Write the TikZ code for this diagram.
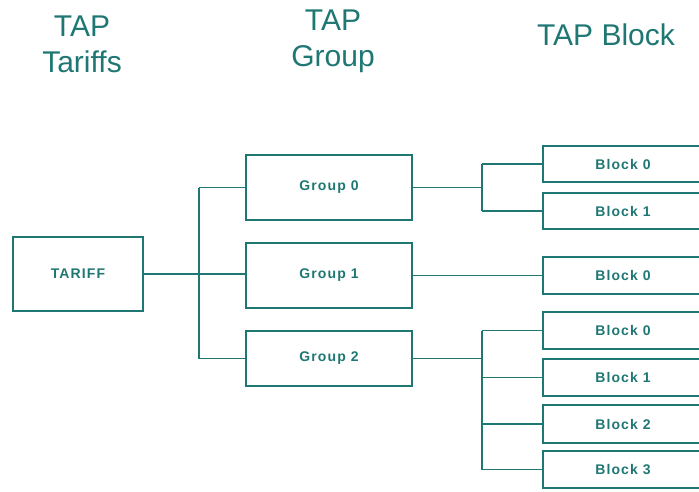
\documentclass[tikz,border=0pt]{standalone}
\usepackage{fontspec}
\setmainfont{Liberation Sans}
\newfontfamily\lblfont[LetterSpace=8]{Liberation Sans}
\definecolor{tealc}{HTML}{1F7773}
\begin{document}
\begin{tikzpicture}[x=1pt,y=-1pt,
  box/.style={draw=tealc,line width=1.5pt,rectangle,inner sep=0pt,minimum width=#1},
  lbl/.style={text=tealc,font=\lblfont\fontsize{14}{14}\selectfont\bfseries},
  ttl/.style={text=tealc,font=\fontsize{30}{36}\selectfont,align=center,inner sep=0pt},
  wire/.style={draw=tealc,line width=1.5pt}]
\useasboundingbox (0,0) rectangle (699,491);
\begin{scope}
\clip (0,0) rectangle (699,491);
% titles
\node[ttl,anchor=base] (t1) at (82,72) {TAP\\Tariffs};
\node[ttl,anchor=base] (t2) at (333,66) {TAP\\Group};
\node[ttl,anchor=base] (t3) at (606,45) {TAP Block};
% boxes
\node[box=130pt,minimum height=74pt,lbl] (tar) at (78,274) {TARIFF};
\node[box=166pt,minimum height=65pt,lbl] (g0) at (329,187.5) {Group 0};
\node[box=166pt,minimum height=65pt,lbl] (g1) at (329,275.5) {Group 1};
\node[box=166pt,minimum height=55pt,lbl] (g2) at (329,358.5) {Group 2};
\node[box=160pt,minimum height=36pt,lbl] (b00) at (623,164) {Block 0};
\node[box=160pt,minimum height=36pt,lbl] (b01) at (623,211) {Block 1};
\node[box=160pt,minimum height=37pt,lbl] (b10) at (623,275.5) {Block 0};
\node[box=160pt,minimum height=37pt,lbl] (b20) at (623,330.5) {Block 0};
\node[box=160pt,minimum height=37pt,lbl] (b21) at (623,377.5) {Block 1};
\node[box=160pt,minimum height=38pt,lbl] (b22) at (623,424) {Block 2};
\node[box=160pt,minimum height=37pt,lbl] (b23) at (623,469.5) {Block 3};
\coordinate (j) at (199,275);
\coordinate (k) at (482,0);
% tariff to groups
\draw[wire] (tar.east) -- (tar.east -| g1.west);
\draw[wire] (j |- g0.west) -- (j |- g2.west);
\draw[wire] (j |- g0.west) -- (g0.west);
\draw[wire] (j |- g2.west) -- (g2.west);
% group 0
\draw[wire] (g0.east) -- (k |- g0.east);
\draw[wire] (k |- b00.west) -- (k |- b01.west);
\draw[wire] (k |- b00.west) -- (b00.west);
\draw[wire] (k |- b01.west) -- (b01.west);
% group 1
\draw[wire] (g1.east) -- (g1.east -| b10.west);
% group 2
\draw[wire] (g2.east) -- (k |- g2.east);
\draw[wire] (k |- b20.west) -- (k |- b23.west);
\draw[wire] (k |- b20.west) -- (b20.west);
\draw[wire] (k |- b21.west) -- (b21.west);
\draw[wire] (k |- b22.west) -- (b22.west);
\draw[wire] (k |- b23.west) -- (b23.west);
\end{scope}
\end{tikzpicture}
\end{document}
